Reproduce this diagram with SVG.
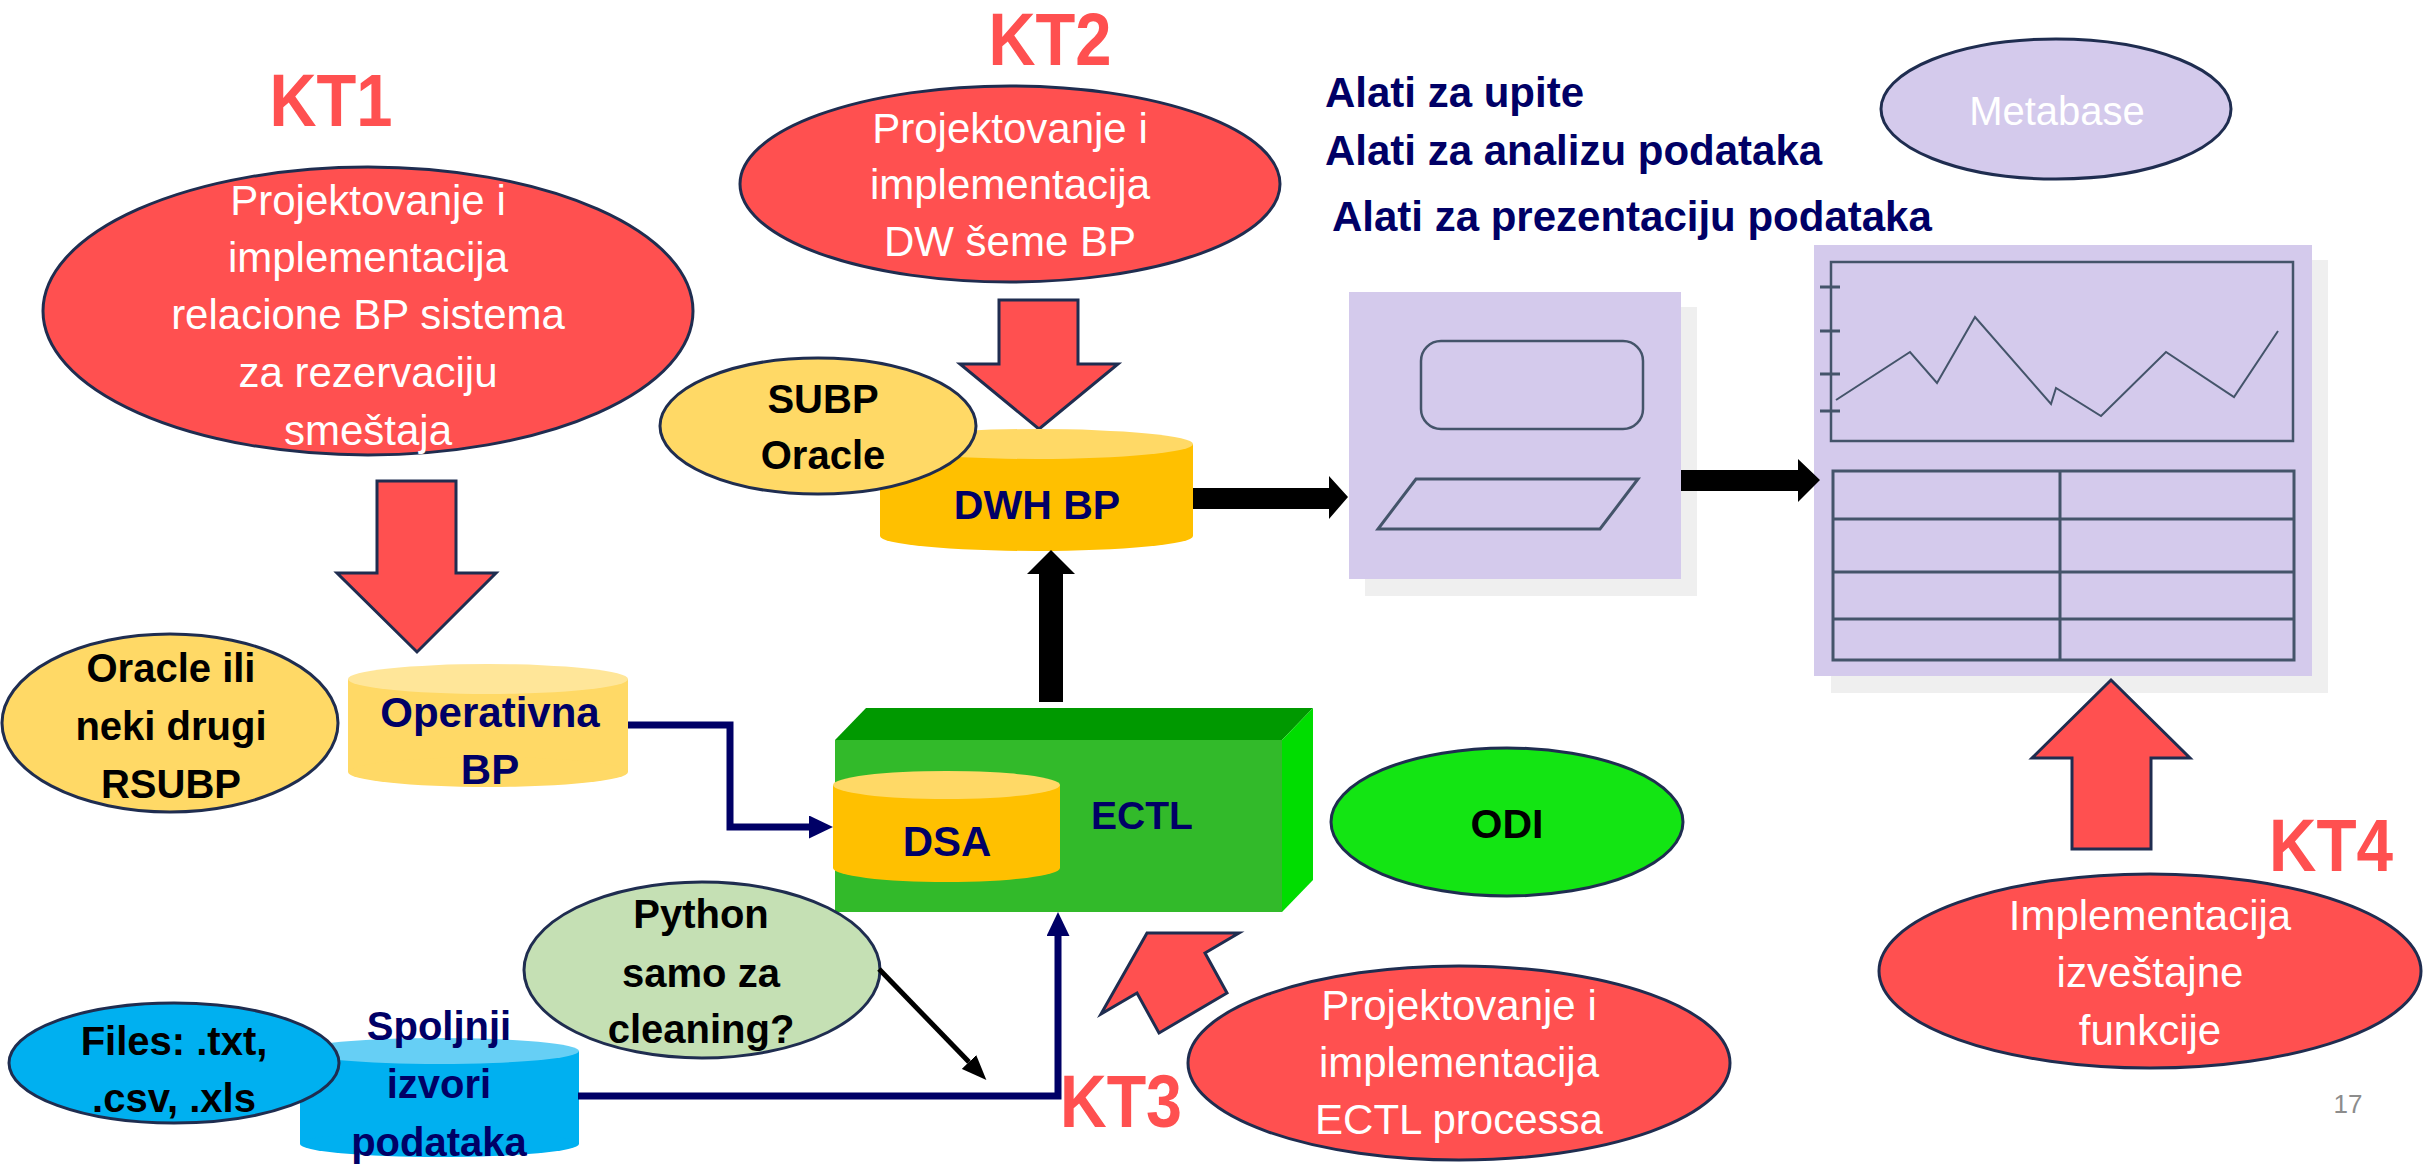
<svg xmlns="http://www.w3.org/2000/svg" width="2432" height="1171" viewBox="0 0 2432 1171">
<style>
text{font-family:"Liberation Sans",Arial,sans-serif}
.ol{stroke:#1F2D50;stroke-width:3}
.red{fill:#FF5050}
.kt{fill:#FF5050;font-weight:bold;font-size:75px;text-anchor:middle}
.wt{fill:#FFFFFF;font-size:42px;text-anchor:middle}
.bk{fill:#000000;font-weight:bold;font-size:40px;text-anchor:middle}
.nv{fill:#000066;font-weight:bold;font-size:42px;text-anchor:middle}
.al{fill:#000066;font-weight:bold;font-size:42px}
.gl{fill:none;stroke:#44546A;stroke-width:2.5}
.con{fill:none;stroke:#000066;stroke-width:7}
</style>
<defs>
<marker id="nav" markerUnits="userSpaceOnUse" markerWidth="24" markerHeight="23" viewBox="0 0 24 23" refX="0" refY="11.5" orient="auto"><path d="M0,0 L24,11.5 L0,23 z" fill="#000066"/></marker>
<marker id="blk" markerUnits="userSpaceOnUse" markerWidth="25" markerHeight="20" viewBox="0 0 25 20" refX="0" refY="10" orient="auto"><path d="M0,0 L25,10 L0,20 z" fill="#000000"/></marker>
</defs>
<rect width="2432" height="1171" fill="#FFFFFF"/>

<!-- KT labels -->
<g id="kt1-label"><text class="kt" x="331" y="126" textLength="123" lengthAdjust="spacingAndGlyphs">KT1</text></g>
<g id="kt2-label"><text class="kt" x="1050" y="65" textLength="123" lengthAdjust="spacingAndGlyphs">KT2</text></g>

<!-- KT1 -->
<g id="kt1">
<ellipse class="red ol" cx="368" cy="311" rx="325" ry="144"/>
<text class="wt" x="368" y="215">Projektovanje i</text>
<text class="wt" x="368" y="272">implementacija</text>
<text class="wt" x="368" y="329">relacione BP sistema</text>
<text class="wt" x="368" y="387">za rezervaciju</text>
<text class="wt" x="368" y="445">smeštaja</text>
</g>
<g id="kt1-arrow"><polygon class="red ol" points="377,481 456,481 456,573 496,573 417,652 337,573 377,573"/></g>

<!-- KT2 -->
<g id="kt2">
<ellipse class="red ol" cx="1010" cy="184" rx="270" ry="98"/>
<text class="wt" x="1010" y="143">Projektovanje i</text>
<text class="wt" x="1010" y="199">implementacija</text>
<text class="wt" x="1010" y="256">DW šeme BP</text>
</g>
<g id="kt2-arrow"><polygon class="red ol" points="999,300 1078,300 1078,364 1118,364 1039,429 960,364 999,364"/></g>

<!-- Oracle ili -->
<g id="oracle-rsubp">
<ellipse class="ol" fill="#FFD966" cx="170" cy="723" rx="168" ry="89"/>
<text class="bk" x="171" y="682">Oracle ili</text>
<text class="bk" x="171" y="740">neki drugi</text>
<text class="bk" x="171" y="798">RSUBP</text>
</g>

<!-- Operativna BP -->
<g id="operativna-bp">
<rect x="348" y="679" width="280" height="93" fill="#FFD966"/>
<ellipse cx="488" cy="772" rx="140" ry="15" fill="#FFD966"/>
<ellipse cx="488" cy="679" rx="140" ry="15" fill="#FFE699"/>
<text class="nv" x="490" y="727">Operativna</text>
<text class="nv" x="490" y="784">BP</text>
</g>

<!-- DWH BP -->
<g id="dwh-bp">
<rect x="880" y="444" width="313" height="92" fill="#FFC000"/>
<ellipse cx="1036.5" cy="536" rx="156.5" ry="15" fill="#FFC000"/>
<ellipse cx="1036.5" cy="444" rx="156.5" ry="15" fill="#FFD966"/>
<text class="nv" x="1037" y="519" style="font-size:41px">DWH BP</text>
</g>

<!-- SUBP Oracle -->
<g id="subp-oracle">
<ellipse class="ol" fill="#FFD966" cx="818" cy="426" rx="158" ry="68"/>
<text class="bk" x="823" y="413">SUBP</text>
<text class="bk" x="823" y="469">Oracle</text>
</g>

<!-- ECTL -->
<g id="ectl">
<rect x="835" y="740" width="447" height="172" fill="#32BA2A"/>
<polygon points="835,740 866,708 1313,708 1282,740" fill="#009900"/>
<polygon points="1282,740 1313,708 1313,880 1282,912" fill="#00DD00"/>
<text class="nv" x="1142" y="829" style="font-size:39px">ECTL</text>
</g>
<g id="dsa">
<rect x="833" y="785" width="227" height="83" fill="#FFC000"/>
<ellipse cx="946.5" cy="868" rx="113.5" ry="14" fill="#FFC000"/>
<ellipse cx="946.5" cy="785" rx="113.5" ry="14" fill="#FFD966"/>
<text class="nv" x="947" y="856">DSA</text>
</g>

<!-- ODI -->
<g id="odi">
<ellipse class="ol" fill="#13E513" cx="1507" cy="822" rx="176" ry="74"/>
<text class="bk" x="1507" y="838" style="font-size:41px">ODI</text>
</g>

<!-- Spoljnji izvori -->
<g id="spoljnji-izvori">
<rect x="300" y="1051" width="279" height="93" fill="#00B0F0"/>
<ellipse cx="439.5" cy="1144" rx="139.5" ry="13" fill="#00B0F0"/>
<ellipse cx="439.5" cy="1051" rx="139.5" ry="13" fill="#66CFF5"/>
</g>
<g id="files">
<ellipse class="ol" fill="#00B0F0" cx="174" cy="1063" rx="165" ry="60"/>
<text class="bk" x="174" y="1055">Files: .txt,</text>
<text class="bk" x="174" y="1112">.csv, .xls</text>
</g>
<g id="spoljnji-text">
<text class="nv" x="439" y="1040" style="font-size:40px">Spoljnji</text>
<text class="nv" x="439" y="1098" style="font-size:40px">izvori</text>
<text class="nv" x="439" y="1156" style="font-size:40px">podataka</text>
</g>

<!-- Python -->
<g id="python">
<ellipse class="ol" fill="#C5E0B4" cx="702" cy="970" rx="178" ry="88"/>
<text class="bk" x="701" y="928">Python</text>
<text class="bk" x="701" y="987">samo za</text>
<text class="bk" x="701" y="1043">cleaning?</text>
</g>

<!-- KT3 -->
<g id="kt3-arrow"><polygon class="red ol" points="1147,933 1239,933 1205,953 1227,993 1159,1033 1137,993 1101,1014"/></g>
<g id="kt3-label"><text class="kt" x="1121" y="1127" textLength="122" lengthAdjust="spacingAndGlyphs">KT3</text></g>
<g id="kt3">
<ellipse class="red ol" cx="1459" cy="1063" rx="271" ry="97"/>
<text class="wt" x="1459" y="1020">Projektovanje i</text>
<text class="wt" x="1459" y="1077">implementacija</text>
<text class="wt" x="1459" y="1134">ECTL processa</text>
</g>

<!-- Alati -->
<g id="alati">
<text class="al" x="1325" y="107">Alati za upite</text>
<text class="al" x="1325" y="165">Alati za analizu podataka</text>
<text class="al" x="1332" y="231">Alati za prezentaciju podataka</text>
</g>

<!-- Metabase -->
<g id="metabase">
<ellipse class="ol" fill="#D4CAEC" cx="2056" cy="109" rx="175" ry="70"/>
<text class="wt" x="2057" y="125" style="font-size:40px">Metabase</text>
</g>

<!-- Query panel -->
<g id="query-panel">
<rect x="1365" y="307" width="332" height="289" fill="#EFEFEF"/>
<rect x="1349" y="292" width="332" height="287" fill="#D4CAEC"/>
<rect class="gl" x="1421" y="341" width="222" height="88" rx="20"/>
<polygon class="gl" points="1416,479 1638,479 1600,529 1378,529" style="stroke-width:3"/>
</g>

<!-- Report panel -->
<g id="report-panel">
<rect x="1831" y="260" width="497" height="433" fill="#EFEFEF"/>
<rect x="1814" y="245" width="498" height="431" fill="#D4CAEC"/>
<rect class="gl" x="1831" y="262" width="462" height="179"/>
<path class="gl" d="M1820,287 H1840 M1820,331 H1840 M1820,374 H1840 M1820,411 H1840" style="stroke-width:3"/>
<polyline class="gl" points="1836,400 1910,352 1937,383 1975,317 2051,404 2056,388 2101,416 2166,352 2234,397 2278,331" style="stroke-width:2"/>
<rect class="gl" x="1833" y="471" width="461" height="189" style="stroke-width:3"/>
<path class="gl" d="M2060,471 V660 M1833,519 H2294 M1833,572 H2294 M1833,619 H2294" style="stroke-width:3"/>
</g>

<!-- KT4 -->
<g id="kt4-arrow"><polygon class="red ol" points="2111,680 2190,758 2151,758 2151,849 2072,849 2072,758 2032,758"/></g>
<g id="kt4-label"><text class="kt" x="2331" y="871" textLength="124" lengthAdjust="spacingAndGlyphs">KT4</text></g>
<g id="kt4">
<ellipse class="red ol" cx="2150" cy="971" rx="271" ry="97"/>
<text class="wt" x="2150" y="930">Implementacija</text>
<text class="wt" x="2150" y="987">izveštajne</text>
<text class="wt" x="2150" y="1045">funkcije</text>
</g>

<!-- Connectors -->
<g id="connectors">
<path class="con" d="M628,725 H730 V827 H809" marker-end="url(#nav)"/>
<path class="con" d="M578,1096 H1058 V936" marker-end="url(#nav)"/>
<line x1="879" y1="969" x2="969" y2="1062" stroke="#000000" stroke-width="5" marker-end="url(#blk)"/>
<polygon points="1051,550 1075,574 1063,574 1063,702 1039,702 1039,574 1027,574" fill="#000000"/>
<polygon points="1193,488 1329,488 1329,476 1348,497 1329,519 1329,509 1193,509" fill="#000000"/>
<polygon points="1681,470 1798,470 1798,459 1820,480 1798,502 1798,491 1681,491" fill="#000000"/>
</g>

<g id="page-number"><text x="2348" y="1113" font-size="26" fill="#8C8C8C" text-anchor="middle">17</text></g>
</svg>
